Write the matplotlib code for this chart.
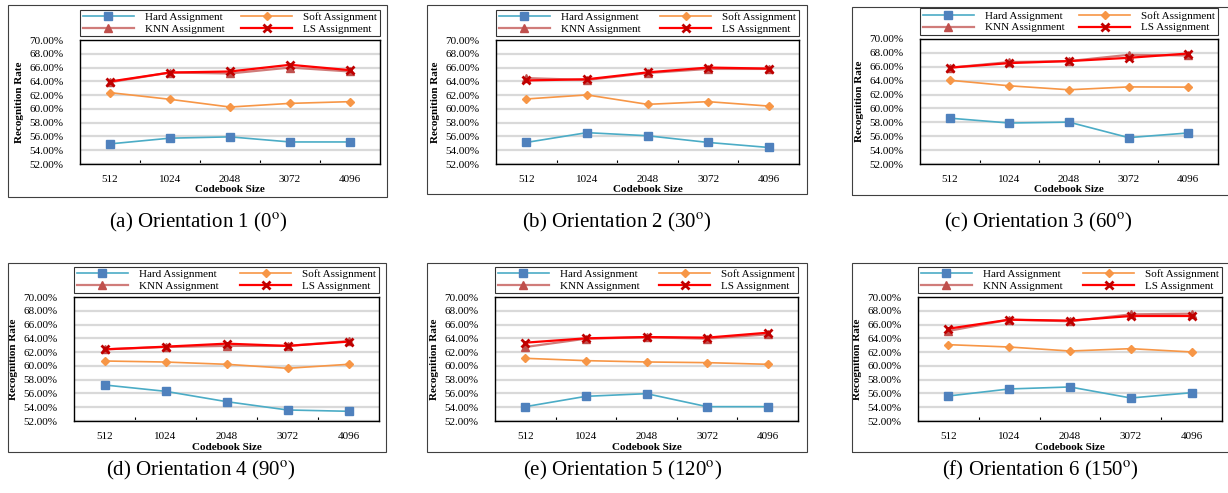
import matplotlib
matplotlib.use("Agg")
import matplotlib.pyplot as plt
from matplotlib.patches import Rectangle
from matplotlib.ticker import FixedLocator, FuncFormatter

plt.rcParams['font.family'] = ['Liberation Serif', 'DejaVu Serif']
plt.rcParams['mathtext.fontset'] = 'stix'

# data (recognition rate, %)
sizes = ['512', '1024', '2048', '3072', '4096']
captions = ['(a) Orientation 1 (0$^{\\mathrm{o}}$)', '(b) Orientation 2 (30$^{\\mathrm{o}}$)',
            '(c) Orientation 3 (60$^{\\mathrm{o}}$)', '(d) Orientation 4 (90$^{\\mathrm{o}}$)',
            '(e) Orientation 5 (120$^{\\mathrm{o}}$)', '(f) Orientation 6 (150$^{\\mathrm{o}}$)']

hard = [[54.92, 55.75, 55.94, 55.20, 55.20],
        [55.13, 56.55, 56.10, 55.13, 54.40],
        [58.60, 57.90, 58.03, 55.80, 56.47],
        [57.23, 56.31, 54.81, 53.60, 53.41],
        [54.08, 55.58, 55.97, 54.08, 54.08],
        [55.63, 56.65, 56.94, 55.34, 56.11]]
soft = [[62.36, 61.39, 60.27, 60.80, 61.05],
        [61.44, 62.03, 60.66, 61.05, 60.41],
        [64.06, 63.26, 62.69, 63.10, 63.07],
        [60.71, 60.56, 60.23, 59.65, 60.23],
        [61.10, 60.76, 60.57, 60.47, 60.23],
        [63.08, 62.74, 62.16, 62.50, 62.02]]
knn = [[63.87, 65.28, 65.14, 66.00, 65.43],
       [64.47, 64.20, 65.20, 65.80, 65.80],
       [65.87, 66.68, 66.82, 67.72, 67.63],
       [62.40, 62.74, 62.90, 62.90, 63.60],
       [62.74, 63.95, 64.15, 63.95, 64.58],
       [65.07, 66.71, 66.47, 67.48, 67.58]]
ls = [[63.97, 65.28, 65.43, 66.40, 65.62],
      [64.13, 64.30, 65.30, 66.00, 65.85],
      [65.87, 66.53, 66.82, 67.29, 67.91],
      [62.40, 62.79, 63.23, 62.90, 63.52],
      [63.37, 64.00, 64.19, 64.10, 64.82],
      [65.40, 66.71, 66.57, 67.24, 67.24]]

W, H = 1228, 493
fig = plt.figure(figsize=(W / 100, H / 100), dpi=100)

# axes boxes in pixels: left, top, right, bottom
boxes = [(80, 40, 380, 164), (496, 40, 799, 164), (920, 39, 1218, 164),
         (74, 297, 379, 421), (495, 297, 798, 421), (918, 297, 1222, 421)]
frames = [(8, 5, 387, 197), (427, 5, 807, 194), (852, 7, 1240, 195),
          (8, 263, 386, 452), (427, 263, 807, 452), (852, 263, 1240, 452)]
cap_pos = [(198, 222), (617, 222), (1038, 222), (201, 470), (623, 470), (1040, 470)]

for fr in frames:
    l, t, r, b = fr
    fig.patches.append(Rectangle((l / W, 1 - b / H), (r - l) / W, (b - t) / H,
                                 transform=fig.transFigure, fill=False,
                                 edgecolor='#404040', linewidth=0.8))

x = list(range(len(sizes)))
for i in range(6):
    l, t, r, b = boxes[i]
    ax = fig.add_axes([l / W, 1 - b / H, (r - l) / W, (b - t) / H])
    ax.set_ylim(52, 70)
    ax.set_xlim(-0.5, 4.5)
    ax.yaxis.set_major_locator(FixedLocator(range(52, 71, 2)))
    ax.yaxis.set_major_formatter(FuncFormatter(lambda v, p: '%.2f%%' % v))
    ax.grid(axis='y', color='#d9d9d9', linewidth=1.6)
    ax.set_axisbelow(True)
    for s in ax.spines.values():
        s.set_color('black')
        s.set_linewidth(1.0)

    h1, = ax.plot(x, hard[i], color='#4bacc6', lw=1.2, marker='s', ms=6,
                  mfc='#4f81bd', mec='#4f81bd', label='Hard Assignment')
    h2, = ax.plot(x, soft[i], color='#f79646', lw=1.2, marker='D', ms=4.5,
                  mfc='#f79646', mec='#f79646', label='Soft Assignment')
    h3, = ax.plot(x, knn[i], color='#d07c7a', lw=1.6, marker='^', ms=5.5,
                  mfc='#c0504d', mec='#c0504d', label='KNN Assignment')
    h4, = ax.plot(x, ls[i], color='#ff0000', lw=1.6, marker='x', ms=5.5, mew=2,
                  mec='#c00000', label='LS Assignment')

    ax.set_xticks(x)
    ax.set_xticklabels(sizes)
    ax.set_xticks([0.5, 1.5, 2.5, 3.5], minor=True)
    ax.tick_params(axis='x', which='major', length=0, labelsize=8, pad=8)
    ax.tick_params(axis='x', which='minor', direction='in', length=3, width=0.8)
    ax.tick_params(axis='y', length=0, labelsize=8, pad=12)
    ax.set_xlabel('Codebook Size', fontsize=8, fontweight='bold', labelpad=1)
    ax.set_ylabel('Recognition Rate', fontsize=8, fontweight='bold', labelpad=4)

    leg = ax.legend([h1, h3, h2, h4],
                    ['Hard Assignment', 'KNN Assignment', 'Soft Assignment', 'LS Assignment'],
                    loc='lower left', bbox_to_anchor=(0, 1.03, 1, 0.21), mode='expand',
                    ncol=2, fontsize=8, frameon=True, fancybox=False, handlelength=4.6,
                    borderaxespad=0, borderpad=0.25, labelspacing=0.15, columnspacing=1.5,
                    handletextpad=1.0)
    leg.get_frame().set_edgecolor('black')
    leg.get_frame().set_linewidth(0.8)

    cx, cy = cap_pos[i]
    fig.text(cx / W, 1 - cy / H, captions[i], ha='center', va='center', fontsize=15)

fig.savefig('out.png', dpi=100)
